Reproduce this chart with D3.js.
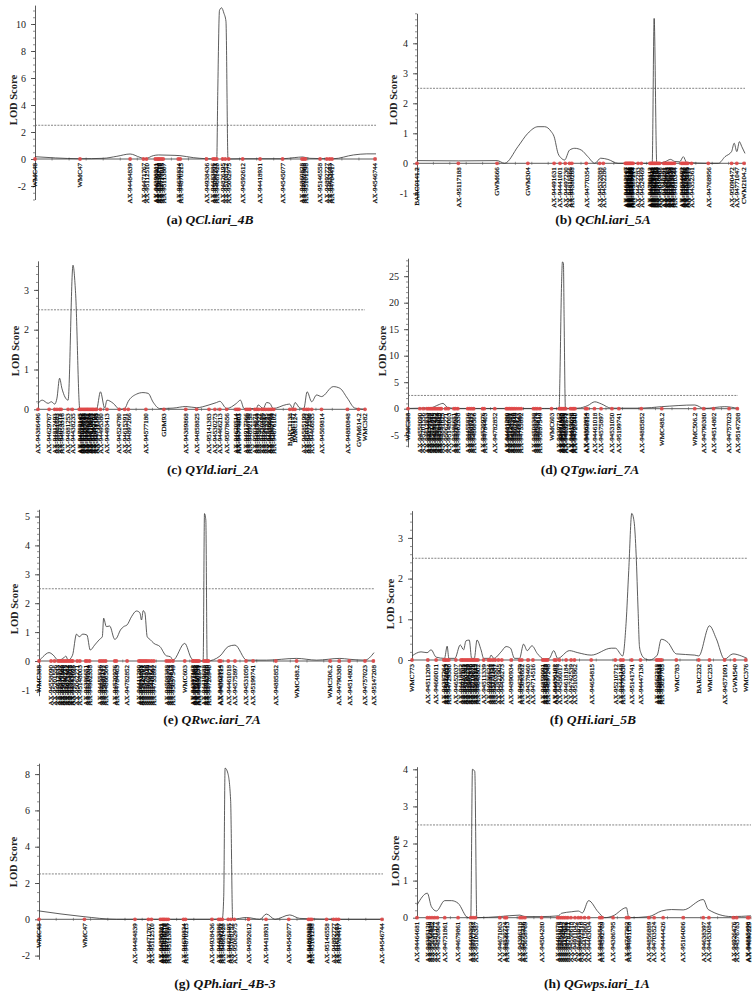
<!DOCTYPE html>
<html><head><meta charset="utf-8">
<script src="https://cdn.jsdelivr.net/npm/d3@7"></script>
<style>
html,body{margin:0;padding:0;background:#fff;}
svg{display:block;font-family:"Liberation Serif","Times New Roman",serif;}
</style></head>
<body>
<script>
// ---------- DATA ----------
// Marker maps: [marker name, position (cM, normalised 0-100)]
const chr4B_markers = [["WMC48",0],["WMC47",13.2],["AX-94484839",27.9],["AX-94471767",31.8],["AX-95112510",32.7],["AX-94398211",35.3],["AX-94639903",35.8],["AX-95038710",36.2],["AX-94516618",36.6],["AX-94727015",37.1],["AX-95113807",37.6],["AX-94630834",42.0],["AX-94870215",42.6],["AX-94938436",50.3],["AX-94483886",52.2],["AX-95098221",52.7],["AX-94661420",53.3],["AX-94826195",55.0],["AX-95108752",55.8],["AX-95062975",56.8],["AX-94592612",60.9],["AX-94418931",66.0],["AX-94545077",72.6],["AX-94860828",78.3],["AX-94932808",78.8],["AX-95101298",79.3],["AX-95146558",83.6],["AX-94892727",85.6],["AX-94633083",86.4],["AX-94704417",87.1],["AX-94546744",99.7]];

const chr5A_markers = [["BARC0141.2",0],["AX-95117188",12.6],["GWM666",24.4],["GWM304",33.8],["AX-94491631",41.8],["AX-94441001",43.6],["AX-94497230",45.2],["AX-94815866",46.5],["AX-94380268",47.2],["AX-94770354",51.6],["AX-94532088",55.7],["AX-94532286",56.8],["AX-94612047",63.5],["AX-94398152",63.8],["AX-95003417",64.1],["AX-94655120",64.4],["AX-94712388",64.7],["AX-94920561",65.0],["AX-95148830",65.3],["AX-94473609",65.6],["AX-94587214",65.9],["AX-94422283",67.4],["AX-94524469",68.4],["AX-94790612",71.0],["AX-94356118",71.3],["AX-94688025",71.6],["AX-95079341",71.9],["AX-94821776",72.2],["AX-94463592",72.5],["AX-94985103",72.8],["AX-94517240",73.2],["AX-94630987",73.6],["AX-95012468",74.0],["AX-94740291",75.2],["AX-94398875",75.6],["AX-94867703",76.0],["AX-95130562",76.4],["AX-94556019",76.8],["AX-94702836",77.2],["AX-94915847",77.6],["AX-94437128",78.0],["AX-94610344",78.5],["AX-94834602",80.6],["AX-95061937",81.0],["AX-94478210",81.4],["AX-94529076",81.8],["AX-94903385",82.2],["AX-94682419",82.6],["AX-94352361",83.7],["AX-94768956",88.8],["AX-95090472",95.9],["AX-94771047",97.5],["CWM2104.2",99.7]];

const chr2A_markers = [["AX-94386496",0],["AX-94629767",3.4],["AX-94812493",5.1],["AX-94401683",5.8],["AX-95073218",6.6],["AX-94953316",7.1],["AX-94881253",9.2],["AX-94438235",10.5],["AX-94702145",12.6],["AX-94519882",13.0],["AX-95027416",13.4],["AX-94664031",13.8],["AX-94737590",14.2],["AX-94482617",14.6],["AX-94906328",15.0],["AX-95110874",15.4],["AX-94573049",15.8],["AX-94620915",16.2],["AX-94845562",16.6],["AX-94392708",17.0],["AX-94958143",17.5],["AX-94711369",17.9],["AX-94495380",19.1],["AX-94493413",21.1],["AX-94524780",24.8],["AX-94615391",26.5],["AX-94897266",27.6],["AX-94577180",33.0],["GDM93",38.5],["AX-94389868",45.2],["AX-94858825",48.5],["AX-95141383",52.3],["AX-94530273",54.1],["AX-94466213",55.6],["AX-95078656",57.7],["AX-94620514",60.5],["AX-94385201",61.0],["AX-94774903",61.5],["AX-94917266",63.6],["AX-94448730",64.2],["AX-94692158",64.8],["AX-95034871",66.3],["AX-94815649",66.9],["AX-94507322",67.5],["AX-94730486",68.4],["AX-94962017",69.0],["AX-94413395",69.6],["AX-94586641",70.4],["AX-94839028",71.0],["AX-95002759",71.5],["AX-94676102",72.1],["BARC1138",77.0],["WMC177",77.9],["BARC124",78.6],["AX-94585199",81.3],["AX-95031652",82.1],["AX-94772590",82.7],["AX-94466835",83.7],["AX-94509814",86.7],["AX-94880848",94.6],["GWM614.2",98.0],["WMC382",100]];

const chr7A_markers = [["WMC388",0],["AX-94558090",3.6],["AX-95201556",4.6],["AX-94612833",5.7],["AX-94830127",6.2],["AX-94477509",6.7],["AX-95018846",7.2],["AX-94390215",7.7],["AX-94671482",8.2],["AX-94925364",8.7],["AX-94504918",9.2],["AX-94743662",9.7],["AX-94841625",10.1],["AX-95062271",11.4],["AX-95148003",12.2],["AX-94386651",13.9],["AX-94719204",14.4],["AX-94902338",15.1],["AX-94455836",18.1],["AX-94638117",18.7],["AX-95091472",19.3],["AX-94860506",19.9],["AX-94520976",22.6],["AX-94784403",23.1],["AX-94782852",26.3],["AX-94411290",29.8],["AX-94693058",30.3],["AX-95124701",30.8],["AX-94547265",31.3],["AX-94879316",31.8],["AX-94602849",32.3],["AX-94930127",32.9],["AX-94418563",33.6],["AX-94755892",34.3],["AX-94508388",38.0],["AX-94963274",38.6],["AX-94625813",39.2],["AX-95037549",40.0],["WMC603",43.5],["AX-94397162",45.8],["AX-94811045",46.2],["AX-94574382",46.6],["AX-95156790",47.0],["AX-94690233",47.4],["AX-94832571",47.8],["AX-94419688",49.2],["AX-94953026",49.7],["AX-94567310",50.2],["AX-94726940",50.6],["AX-94862954",53.8],["AX-94398115",54.3],["AX-94461018",56.5],["AX-94575897",58.5],["AX-94531050",61.8],["AX-95199741",63.9],["AX-94885852",70.7],["WMC488.2",76.9],["WMC506.2",86.9],["AX-94790380",89.6],["AX-94514802",92.6],["AX-94757023",97.3],["AX-95147208",99.8]];

const chr5B_markers = [["WMC773",0],["AX-94511209",4.7],["AX-94660011",7.2],["AX-94387264",9.5],["AX-94812053",10.0],["AX-95046617",10.5],["AX-94729380",11.0],["AX-94652037",13.1],["AX-94418852",14.6],["AX-94937105",15.1],["AX-94563381",15.6],["AX-95120748",16.1],["AX-94684219",16.6],["AX-94402976",17.1],["AX-94875530",17.6],["AX-94719628",18.1],["AX-95008815",18.6],["AX-94531147",19.1],["AX-94648802",19.6],["AX-94511339",21.4],["AX-94936624",22.8],["AX-94470158",23.4],["AX-95172241",24.1],["AX-94603387",24.8],["AX-94821905",25.8],["AX-94456273",26.8],["AX-94890934",29.6],["AX-94625479",32.1],["AX-95093682",32.8],["AX-94378460",34.6],["AX-94714516",36.1],["AX-94859091",39.0],["AX-94533720",39.5],["AX-95015833",40.0],["AX-94697248",40.5],["AX-94436102",42.5],["AX-94972485",43.0],["AX-94586017",44.0],["AX-94618184",46.0],["AX-94742539",47.5],["AX-95103862",48.5],["AX-94654815",53.5],["AX-95210712",60.7],["AX-94444148",62.3],["AX-94793650",63.0],["AX-95141741",65.6],["AX-94447136",68.2],["AX-94562218",73.0],["AX-94905731",73.5],["AX-94638940",74.0],["AX-95027765",74.5],["WMC783",78.9],["BARC232",85.6],["WMC235",88.8],["AX-94571091",93.3],["GWM540",96.3],["WMC376",99.6]];

const chr1A_markers = [["AX-94464681",0],["AX-94385120",3.1],["AX-94712639",3.8],["AX-95030482",4.5],["AX-94581377",5.3],["AX-94826904",6.1],["AX-94731861",8.3],["AX-94679861",12.3],["AX-94498302",16.1],["AX-94917547",16.8],["AX-95106387",17.5],["AX-94671063",24.8],["AX-94530724",26.3],["AX-94844413",26.8],["AX-94396118",30.8],["AX-94775236",31.5],["AX-95058769",32.3],["AX-94504280",37.3],["AX-94401578",42.1],["AX-94863015",42.7],["AX-94629447",43.3],["AX-95174852",43.9],["AX-94437906",44.5],["AX-94782321",45.2],["AX-94550618",46.1],["AX-94911042",47.3],["AX-94683975",48.3],["AX-95022516",49.1],["AX-94415860",50.2],["AX-94463034",51.4],["AX-94826543",54.7],["AX-94592769",55.4],["AX-94386795",58.7],["AX-94747302",62.7],["AX-94981158",63.4],["AX-94856889",69.4],["AX-94703524",71.0],["AX-94444426",73.7],["AX-95164006",79.7],["AX-94638397",85.7],["AX-94453084",87.4],["AX-94926476",94.7],["AX-94576783",95.7],["AX-94815498",99.0],["AX-94690229",99.4]];

// LOD profiles: [position (cM), LOD]
const lodA = [[0,0.17],[6,0.08],[13.2,0.02],[20,0.05],[24,0.2],[27.9,0.37],[30.8,0.12],[32.3,0.02],[34.7,0.25],[36.2,0.3],[39.6,0.28],[42.5,0.25],[46.4,0.1],[50.3,0.02],[53.3,0],[53.6,5],[54.1,11.0],[54.7,11.2],[55.4,10.8],[56.0,10.2],[56.6,0],[60.9,0.02],[72.6,0.02],[76,0.1],[78.5,0.15],[80.6,0.05],[87.5,0.02],[93.4,0.3],[97.3,0.38],[100,0.38]];
const lodB = [[0,0.09],[12.6,0.08],[24.4,0.09],[26.7,0],[30.8,0.56],[33.8,1.0],[36.9,1.22],[38.9,1.22],[40.9,1.06],[41.8,0.89],[43.0,0.33],[44.0,0.17],[45.0,0.11],[46.5,0.44],[48.1,0.5],[50.1,0.44],[52.1,0.22],[54.2,0],[56.0,0.17],[58.2,0.13],[61.3,0],[71.7,0],[72.3,4.83],[73.1,0],[75.6,0.05],[77.3,0.13],[78.6,0.06],[80.1,0.05],[81.2,0.22],[82.2,0.03],[88.8,0],[91.9,0],[93.9,0.22],[95.9,0.39],[96.7,0.67],[97.5,0.39],[98.3,0.72],[99.0,0.56],[100,0.33]];
const lodC = [[0,0.15],[1.3,0.23],[3.1,0.15],[4.1,0.19],[5.1,0.13],[5.8,0.28],[6.6,0.78],[7.3,0.53],[9.2,0.23],[10.7,3.62],[11.5,2.91],[12.8,0],[17.9,0],[19.1,0.44],[20.4,0.03],[21.1,0.23],[23.0,0.15],[25.0,0],[26.5,0.02],[27.6,0.2],[30.1,0.38],[32.1,0.42],[33.7,0.4],[35.2,0.18],[37.2,0.02],[41.3,0.03],[45.2,0.07],[48.5,0.04],[52.3,0.11],[54.6,0.17],[55.6,0.2],[57.7,0.02],[60.7,0.15],[61.9,0.23],[63.0,0.02],[66.8,0.02],[67.3,0.11],[68.9,0.02],[69.9,0.17],[70.9,0.15],[71.9,0.02],[76.0,0.12],[77.0,0.13],[77.9,0.02],[78.6,0.17],[80.1,0.03],[81.3,0.02],[82.3,0.44],[83.7,0.19],[85.2,0.36],[86.7,0.32],[90.3,0.57],[92.3,0.53],[94.6,0.28],[96.9,0.03],[100,0]];
const lodD = [[0.2,0.05],[4.0,0.1],[7.1,0.2],[9.1,0.7],[10.6,1.0],[12.1,0.2],[15.2,0.05],[31.3,0.05],[41.4,0.05],[45.8,0.05],[46.0,4.8],[46.5,22.7],[46.8,27.7],[47.1,27.4],[47.3,17.4],[47.7,0.05],[51.5,0.1],[54.5,0.6],[56.6,1.3],[58.6,0.9],[61.6,0.1],[70.7,0.1],[76.8,0.38],[86.9,0.7],[89.7,0.05],[96.0,0.38],[100,0.05]];
const lodE = [[0,0],[1.2,0.15],[3.0,0.29],[4.2,0.21],[5.7,0.03],[7.2,0.09],[8.0,0.17],[8.7,0.03],[10.0,0.2],[11.2,0.93],[12.0,0.84],[13.1,0.93],[14.3,0.9],[15.3,0.38],[16.6,0.55],[18.1,0.75],[18.9,0.84],[19.3,1.48],[20.1,1.19],[21.1,1.21],[22.6,0.75],[23.1,0.78],[24.3,1.07],[25.3,1.19],[26.3,1.25],[27.6,1.53],[29.1,1.73],[30.1,1.67],[30.6,1.42],[31.1,1.74],[31.6,1.67],[32.3,0.84],[33.1,0.75],[34.3,0.61],[36.1,0.5],[38.0,0.18],[39.2,0.15],[40.0,0.03],[43.5,0.61],[45.5,0.09],[47.0,0],[49.0,0],[49.4,5.1],[49.8,4.88],[50.2,0],[54.0,0.17],[56.5,0.5],[58.5,0.55],[62.0,0.03],[67.9,0.03],[76.9,0.09],[82.9,0.03],[89.8,0.09],[92.6,0.06],[97.3,0.03],[100,0.29]];
const lodF = [[0,0.1],[2.7,0.2],[4.5,0.18],[5.7,0.25],[7.2,0.07],[9.7,0.04],[10.5,0.34],[11.0,0.04],[12.8,0.04],[14.4,0.37],[15.4,0.25],[16.1,0.47],[17.1,0.49],[17.8,0.04],[18.6,0.04],[19.4,0.49],[20.6,0.25],[21.4,0.04],[23.1,0.04],[23.6,0.12],[24.4,0.04],[26.6,0.2],[28.1,0.33],[29.4,0.29],[30.6,0.04],[32.1,0.04],[33.3,0.39],[34.4,0.23],[35.8,0.35],[37.4,0.16],[39.5,0.02],[41.0,0.04],[42.3,0.23],[43.5,0.04],[47.0,0.23],[49.5,0.18],[53.5,0.12],[59.5,0.29],[60.7,0.29],[62.9,0.1],[63.9,0.9],[64.7,2.2],[65.6,3.6],[66.3,3.4],[66.9,2.6],[67.5,1.2],[67.9,0.33],[68.4,0.16],[69.4,0.04],[70.9,0],[73.2,0.12],[74.4,0.51],[76.4,0.43],[78.9,0.15],[84.4,0.12],[85.6,0.1],[88.8,0.84],[90.8,0.53],[93.3,0.02],[95.8,0.15],[98.3,0.1],[100,0.04]];
const lodG = [[0,0.46],[12.8,0.15],[22.5,0],[50.6,0],[53.3,0.05],[53.7,1.25],[54.1,8.33],[54.9,8.05],[55.7,6.58],[56.3,0],[60.3,0.1],[64.2,0],[66.1,0.29],[68.6,0],[72.9,0.24],[75.8,0.05],[87.5,0],[100,0]];
const lodH = [[0,0.34],[3.1,0.66],[4.3,0.3],[5.8,0.18],[8.3,0.46],[10.3,0.46],[12.3,0.39],[15.3,0],[16.1,0],[16.6,4.0],[17.3,3.94],[17.9,0],[24.8,0.03],[30.8,0.07],[32.3,0.03],[37.3,0.03],[42.3,0.05],[43.3,0.12],[46.3,0.16],[48.3,0.18],[49.5,0.13],[51.4,0.46],[54.2,0.16],[56.2,0],[58.7,0.05],[62.7,0.27],[63.4,0],[69.4,0.03],[73.2,0.18],[76.2,0.22],[79.7,0.21],[85.7,0.49],[87.2,0.22],[94.2,0.03],[100,0.05]];

const panelLetters = ["(a)","(b)","(c)","(d)","(e)","(f)","(g)","(h)"];
const qtlNames = ["QCl.iari_4B","QChl.iari_5A","QYld.iari_2A","QTgw.iari_7A","QRwc.iari_7A","QHi.iari_5B","QPh.iari_4B-3","QGwps.iari_1A"];
const yTickValues = [[-2,0,2,4,6,8,10],[-1,0,1,2,3,4],[0,1,2,3],[-5,0,5,10,15,20,25],[-1,0,1,2,3,4,5],[0,1,2,3],[-2,0,2,4,6,8],[0,1,2,3,4]];
const lodThreshold = 2.5;
const yLabel = "LOD Score";

// ---------- LAYOUT (geometry only) ----------
const layout = [
  {m:chr4B_markers, c:lodA, x0:35,  x1:376, zero:159,   unit:13.5, lo:-3,   hi:11.4, minor:0.5, lx:13,  ly:100, tx:210, ty:224},
  {m:chr5A_markers, c:lodB, x0:417, x1:745, zero:163.3, unit:30,   lo:-1.2, hi:5.0,  minor:0.2, lx:393, ly:100, tx:603, ty:224},
  {m:chr2A_markers, c:lodC, x0:38,  x1:365, zero:409.3, unit:39.8, lo:0,    hi:3.73, minor:0.2, lx:15,  ly:351, tx:213, ty:474},
  {m:chr7A_markers, c:lodD, x0:408, x1:738, zero:408.7, unit:5.3,  lo:-7.2, hi:28.4, minor:1,   lx:382, ly:351, tx:590, ty:474},
  {m:chr7A_markers, c:lodE, x0:39,  x1:374, zero:661,   unit:28.9, lo:-1.2, hi:5.25, minor:0.2, lx:14,  ly:609, tx:212, ty:724},
  {m:chr5B_markers, c:lodF, x0:412, x1:747, zero:660,   unit:40.7, lo:0,    hi:3.67, minor:0.2, lx:390, ly:604, tx:593, ty:724},
  {m:chr4B_markers, c:lodG, x0:39,  x1:383, zero:919.3, unit:18.15,lo:-2.2, hi:8.6,  minor:0.5, lx:13,  ly:862, tx:225, ty:988},
  {m:chr1A_markers, c:lodH, x0:417, x1:751, zero:917.7, unit:37.1, lo:0,    hi:4.07, minor:0.2, lx:395, ly:861, tx:597, ty:988}
];

const svg = d3.select("body").append("svg").attr("width",756).attr("height",992);

layout.forEach((p,i) => {
  const g = svg.append("g");
  const x = d3.scaleLinear().domain([0,100]).range([p.x0,p.x1]);
  const y = d3.scaleLinear().domain([p.lo,p.hi]).range([p.zero - p.lo*p.unit, p.zero - p.hi*p.unit]);

  // minor y ticks
  const nMinor = Math.round((p.hi - p.lo)/p.minor);
  const minorVals = d3.range(0, nMinor+1).map(k => +(Math.ceil(p.lo/p.minor)*p.minor + k*p.minor).toFixed(3)).filter(v => v>=p.lo && v<=p.hi);
  g.append("g").attr("transform",`translate(${p.x0},0)`)
    .call(d3.axisLeft(y).tickValues(minorVals).tickSize(2).tickFormat(""))
    .call(s => s.select(".domain").remove())
    .selectAll("line").attr("stroke","#444").attr("stroke-width",0.6);

  // major y axis
  const ax = g.append("g").attr("transform",`translate(${p.x0},0)`)
    .call(d3.axisLeft(y).tickValues(yTickValues[i]).tickSize(4).tickSizeOuter(0).tickPadding(5).tickFormat(d => String(d)));
  ax.select(".domain").attr("stroke","#333").attr("stroke-width",0.8);
  ax.selectAll(".tick line").attr("stroke","#333").attr("stroke-width",0.8);
  ax.selectAll(".tick text").attr("font-family",'"Liberation Serif","Times New Roman",serif').attr("font-size",10).attr("fill","#222");

  // x axis line at LOD 0 with small ticks
  g.append("line").attr("x1",p.x0).attr("x2",p.x1).attr("y1",y(0)).attr("y2",y(0)).attr("stroke","#333").attr("stroke-width",0.8);
  g.append("g").selectAll("line").data(d3.range(0,101,5)).join("line")
    .attr("x1",d=>x(d)).attr("x2",d=>x(d)).attr("y1",y(0)-1.5).attr("y2",y(0)+1.5)
    .attr("stroke","#555").attr("stroke-width",0.6);

  // threshold
  g.append("line").attr("x1",p.x0).attr("x2",p.x1).attr("y1",y(lodThreshold)).attr("y2",y(lodThreshold))
    .attr("stroke","#666").attr("stroke-width",0.8).attr("stroke-dasharray","2,1.2");

  // LOD curve
  const line = d3.line().x(d=>x(d[0])).y(d=>y(d[1])).curve(d3.curveMonotoneX);
  g.append("path").datum(p.c).attr("d",line).attr("fill","none").attr("stroke","#333").attr("stroke-width",0.8);

  // marker labels
  g.append("g").selectAll("text").data(p.m).join("text")
    .attr("transform",d=>`translate(${x(d[1])+2.3},${y(0)+4}) rotate(-90)`)
    .attr("text-anchor","end")
    .attr("font-size",7)
    .attr("fill","#000")
    .attr("stroke","#000").attr("stroke-width",0.2)
    .text(d=>d[0]);

  // red marker points
  g.append("g").selectAll("circle").data(p.m).join("circle")
    .attr("cx",d=>x(d[1])).attr("cy",y(0)).attr("r",1.9)
    .attr("fill","#e04848").attr("opacity",0.9);

  // y label
  g.append("text").attr("transform",`translate(${p.lx},${p.ly}) rotate(-90)`)
    .attr("text-anchor","middle").attr("dominant-baseline","central")
    .attr("font-size",10.5).attr("font-weight","bold").attr("fill","#222").text(yLabel);

  // title
  const t = g.append("text").attr("x",p.tx).attr("y",p.ty).attr("text-anchor","middle")
    .attr("font-size",13.5).attr("font-weight","bold").attr("fill","#111");
  t.append("tspan").text(panelLetters[i] + " ");
  t.append("tspan").attr("font-style","italic").text(qtlNames[i]);
});
</script>
</body></html>
